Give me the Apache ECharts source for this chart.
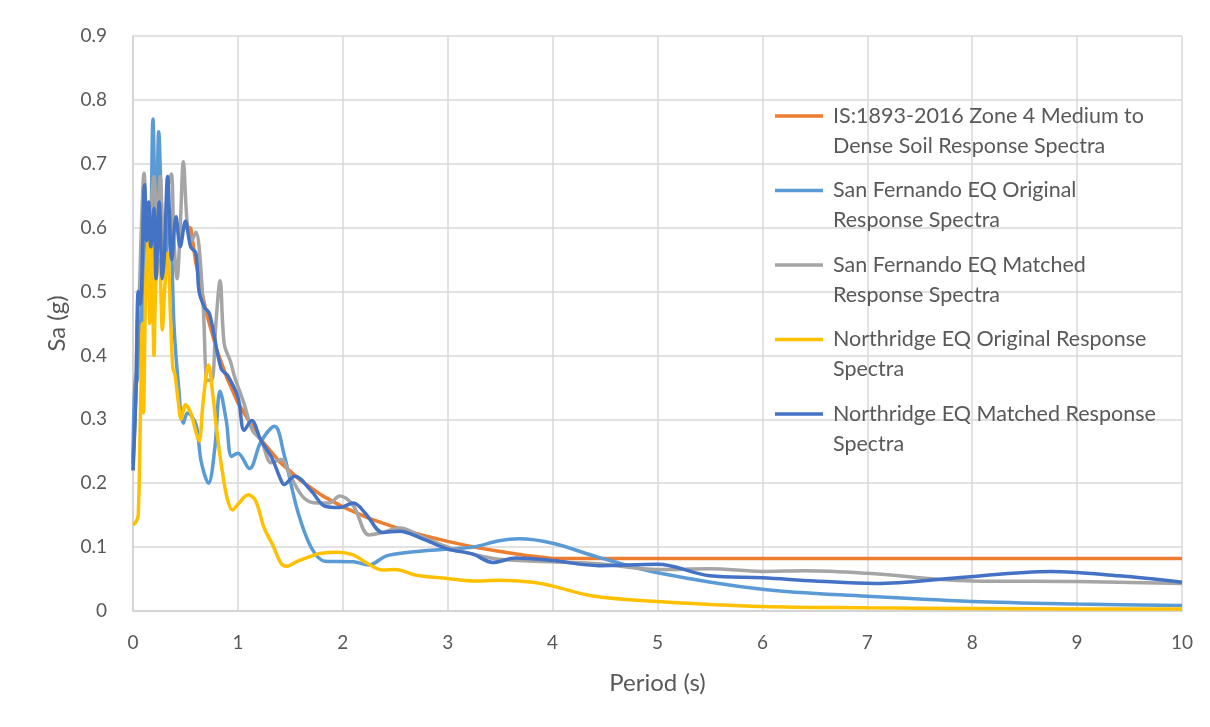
<!DOCTYPE html>
<html>
<head>
<meta charset="utf-8">
<script src="https://cdn.jsdelivr.net/npm/echarts@6/dist/echarts.min.js"></script>
<style>
  html, body { margin: 0; padding: 0; background: #ffffff; }
  #chart { width: 1210px; height: 727px; }
</style>
</head>
<body>
<div id="chart"></div>
<script>
// Axis ticks
const xTicks = [0, 1, 2, 3, 4, 5, 6, 7, 8, 9, 10];
const yTicks = [0, 0.1, 0.2, 0.3, 0.4, 0.5, 0.6, 0.7, 0.8, 0.9];

// IS:1893-2016 Zone 4, medium to dense soil design spectrum
const codePeriods = [0, 0.1, 0.55, 0.6, 0.7, 0.8, 0.9, 1.0, 1.2, 1.4, 1.6, 1.8, 2.0, 2.25, 2.5, 2.75, 3.0, 3.25, 3.5, 3.75, 4.0, 10];
const codeSa = [0.24, 0.6, 0.6, 0.544, 0.466, 0.408, 0.363, 0.326, 0.272, 0.233, 0.204, 0.181, 0.163, 0.145, 0.131, 0.119, 0.109, 0.100, 0.093, 0.087, 0.082, 0.082];

// San Fernando EQ, original record
const sfOrigPeriods = [0, 0.02, 0.04, 0.06, 0.08, 0.1, 0.13, 0.16, 0.19, 0.22, 0.245, 0.28, 0.31, 0.35, 0.39, 0.43, 0.48, 0.52, 0.6, 0.65, 0.72, 0.78, 0.83, 0.89, 0.94, 1.0, 1.11, 1.22, 1.35, 1.44, 1.57, 1.7, 1.83, 2.1, 2.25, 2.41, 2.63, 3.0, 3.24, 3.49, 3.68, 4.0, 4.44, 5.0, 6.0, 7.0, 8.0, 9.0, 10.0];
const sfOrigSa = [0.23, 0.37, 0.36, 0.5, 0.44, 0.47, 0.6, 0.55, 0.77, 0.55, 0.75, 0.6, 0.55, 0.63, 0.45, 0.36, 0.294, 0.31, 0.292, 0.234, 0.2, 0.255, 0.344, 0.297, 0.242, 0.247, 0.223, 0.265, 0.289, 0.245, 0.156, 0.099, 0.078, 0.077, 0.072, 0.086, 0.092, 0.097, 0.1, 0.11, 0.113, 0.106, 0.084, 0.06, 0.034, 0.023, 0.015, 0.011, 0.0085];

// San Fernando EQ, spectrally matched
const sfMatchPeriods = [0, 0.02, 0.04, 0.06, 0.08, 0.105, 0.13, 0.15, 0.17, 0.2, 0.23, 0.26, 0.29, 0.33, 0.365, 0.39, 0.42, 0.45, 0.48, 0.52, 0.56, 0.6, 0.63, 0.67, 0.71, 0.75, 0.79, 0.83, 0.87, 0.93, 0.97, 1.06, 1.14, 1.22, 1.32, 1.41, 1.51, 1.63, 1.76, 1.87, 1.97, 2.1, 2.25, 2.38, 2.54, 2.76, 3.0, 3.24, 3.49, 4.0, 4.44, 5.0, 5.5, 6.0, 6.4, 7.0, 8.0, 9.0, 10.0];
const sfMatchSa = [0.22, 0.3, 0.45, 0.5, 0.6, 0.685, 0.6, 0.55, 0.62, 0.68, 0.6, 0.68, 0.56, 0.66, 0.684, 0.58, 0.52, 0.6, 0.703, 0.6, 0.58, 0.593, 0.57, 0.476, 0.361, 0.361, 0.45, 0.517, 0.418, 0.39, 0.366, 0.324, 0.282, 0.268, 0.232, 0.237, 0.208, 0.177, 0.169, 0.169, 0.18, 0.165, 0.119, 0.123, 0.13, 0.116, 0.1, 0.089, 0.081, 0.077, 0.074, 0.065, 0.066, 0.062, 0.063, 0.059, 0.047, 0.046, 0.043];

// Northridge EQ, original record
const nrOrigPeriods = [0, 0.03, 0.05, 0.07, 0.09, 0.1, 0.12, 0.14, 0.16, 0.18, 0.2, 0.22, 0.25, 0.28, 0.3, 0.33, 0.36, 0.38, 0.4, 0.43, 0.46, 0.5, 0.55, 0.6, 0.63, 0.67, 0.72, 0.76, 0.8, 0.85, 0.9, 0.95, 1.0, 1.1, 1.17, 1.25, 1.33, 1.41, 1.46, 1.57, 1.7, 1.78, 1.94, 2.1, 2.22, 2.38, 2.5, 2.7, 3.0, 3.24, 3.49, 3.81, 4.0, 4.4, 5.0, 6.0, 7.0, 8.0, 9.0, 10.0];
const nrOrigSa = [0.135, 0.14, 0.15, 0.3, 0.45, 0.31, 0.5, 0.58, 0.45, 0.59, 0.4, 0.52, 0.55, 0.44, 0.5, 0.56, 0.45, 0.38, 0.37, 0.33, 0.3, 0.323, 0.31, 0.28, 0.266, 0.33, 0.385, 0.34, 0.28, 0.22, 0.175, 0.158, 0.167, 0.182, 0.172, 0.13, 0.104, 0.075, 0.07, 0.078, 0.086, 0.09, 0.092, 0.088, 0.076, 0.064, 0.065, 0.056, 0.051, 0.047, 0.048, 0.045, 0.039, 0.023, 0.015, 0.007, 0.005, 0.004, 0.003, 0.003];

// Northridge EQ, spectrally matched
const nrMatchPeriods = [0, 0.03, 0.05, 0.07, 0.11, 0.13, 0.15, 0.17, 0.2, 0.22, 0.25, 0.28, 0.3, 0.33, 0.37, 0.41, 0.45, 0.5, 0.55, 0.6, 0.63, 0.68, 0.73, 0.84, 0.9, 1.0, 1.06, 1.13, 1.22, 1.32, 1.41, 1.44, 1.54, 1.7, 1.83, 1.97, 2.1, 2.22, 2.38, 2.54, 2.76, 3.0, 3.24, 3.43, 3.65, 4.0, 4.44, 5.0, 5.5, 6.0, 6.5, 7.08, 7.86, 8.75, 9.4, 10.0];
const nrMatchSa = [0.22, 0.35, 0.5, 0.48, 0.667, 0.58, 0.64, 0.57, 0.63, 0.52, 0.64, 0.52, 0.56, 0.68, 0.55, 0.617, 0.57, 0.61, 0.57, 0.56, 0.5, 0.476, 0.465, 0.379, 0.369, 0.335, 0.283, 0.298, 0.267, 0.241, 0.205, 0.198, 0.211, 0.188, 0.164, 0.162, 0.169, 0.152, 0.123, 0.125, 0.113, 0.097, 0.089, 0.076, 0.083, 0.079, 0.071, 0.073, 0.055, 0.052, 0.047, 0.043, 0.052, 0.062, 0.055, 0.045];

const seriesNames = [
  'IS:1893-2016 Zone 4 Medium to\nDense Soil Response Spectra',
  'San Fernando EQ Original\nResponse Spectra',
  'San Fernando EQ Matched\nResponse Spectra',
  'Northridge EQ Original Response\nSpectra',
  'Northridge EQ Matched Response\nSpectra'
];
const seriesColors = ['#ED7D31', '#5B9BD5', '#A5A5A5', '#FFC000', '#4472C4'];

function pairs(ts, vs) { return ts.map((t, i) => [t, vs[i]]); }

const seriesData = [
  pairs(codePeriods, codeSa),
  pairs(sfOrigPeriods, sfOrigSa),
  pairs(sfMatchPeriods, sfMatchSa),
  pairs(nrOrigPeriods, nrOrigSa),
  pairs(nrMatchPeriods, nrMatchSa)
];

const FONT = 'Lato, "Open Sans", sans-serif';
const TEXT = '#595959';
const LEGEND_LINE = 30;

const chart = echarts.init(document.getElementById('chart'), null, { renderer: 'canvas' });
chart.setOption({
  backgroundColor: '#ffffff',
  animation: false,
  textStyle: { fontFamily: FONT },
  grid: { left: 133, right: 28, top: 36, bottom: 116, containLabel: false },
  xAxis: {
    type: 'value',
    min: xTicks[0],
    max: xTicks[xTicks.length - 1],
    interval: 1,
    name: 'Period (s)',
    nameLocation: 'middle',
    nameGap: 60,
    nameTextStyle: { color: TEXT, fontSize: 24, fontFamily: FONT },
    axisLine: { show: true, lineStyle: { color: '#d0d0d0', width: 1.5 } },
    axisTick: { show: false },
    axisLabel: { color: TEXT, fontSize: 19, margin: 22, fontFamily: FONT },
    splitLine: { show: true, lineStyle: { color: '#d9d9d9', width: 1.5 } }
  },
  yAxis: {
    type: 'value',
    min: yTicks[0],
    max: yTicks[yTicks.length - 1],
    interval: 0.1,
    name: 'Sa (g)',
    nameLocation: 'middle',
    nameGap: 60,
    nameRotate: 90,
    nameTextStyle: { color: TEXT, fontSize: 24, fontFamily: FONT },
    axisLine: { show: true, lineStyle: { color: '#d0d0d0', width: 1.5 } },
    axisTick: { show: false },
    axisLabel: {
      color: TEXT, fontSize: 19, margin: 26, fontFamily: FONT,
      formatter: v => (Math.round(v * 10) / 10).toString()
    },
    splitLine: { show: true, lineStyle: { color: '#d9d9d9', width: 1.5 } }
  },
  legend: {
    orient: 'vertical',
    left: 775,
    top: 116 - 1.5 * LEGEND_LINE,
    padding: 0,
    itemWidth: 48,
    itemHeight: 14,
    itemGap: 74.5 - 3 * LEGEND_LINE,
    icon: 'path://M0,6 L48,6 L48,9.5 L0,9.5 Z',
    // a blank first line keeps the swatch level with the first line of each label
    formatter: name => ' \n' + name,
    textStyle: {
      color: TEXT, fontSize: 21.5, fontFamily: FONT,
      lineHeight: LEGEND_LINE, padding: [0, 0, 0, 5]
    },
    data: seriesNames
  },
  series: seriesData.map((d, i) => ({
    name: seriesNames[i],
    type: 'line',
    data: d,
    smooth: i === 0 ? false : 0.35,
    symbol: 'none',
    color: seriesColors[i],
    lineStyle: { width: 3.5, color: seriesColors[i] },
    emphasis: { disabled: true }
  }))
});
</script>
</body>
</html>
